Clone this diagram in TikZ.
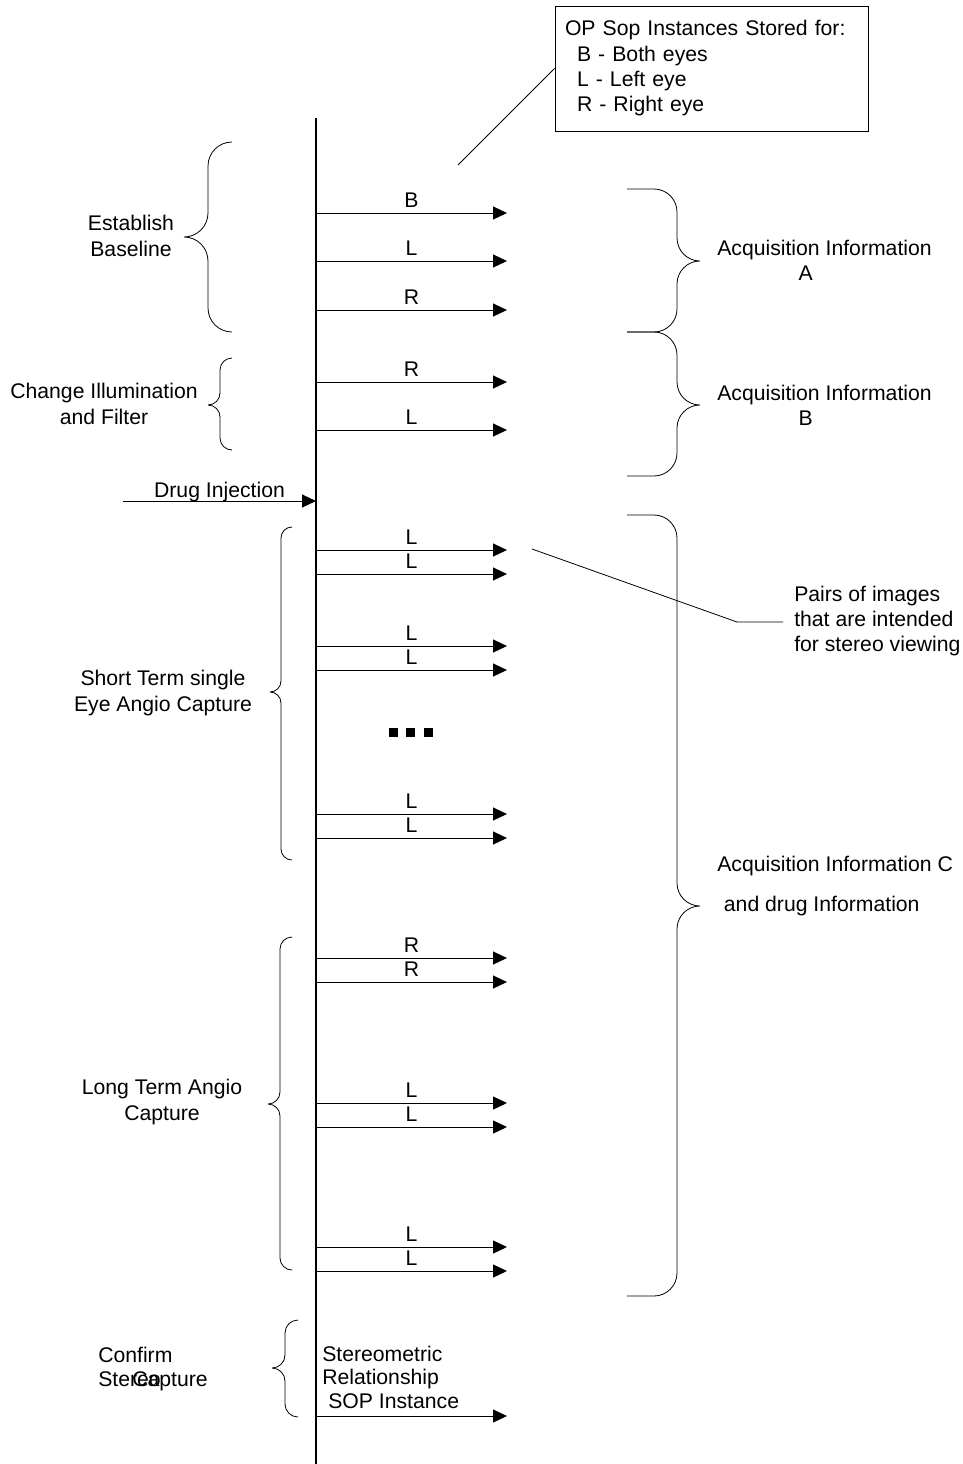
\documentclass[tikz,border=0pt]{standalone}
\usepackage{fontspec}
\setmainfont{Liberation Sans}
\usetikzlibrary{arrows.meta,positioning}
\tikzset{
	arr/.style={-{Triangle[length=10.5pt,width=9.75pt]}, line width=0.75pt},
	lbl/.style={midway, anchor=base, yshift=4.5pt, inner sep=0pt},
	txt/.style={inner sep=0pt, align=center},
	brc/.style={rounded corners=#1, line width=0.6pt},
	dot/.style={rectangle, fill=black, minimum size=6.75pt, inner sep=0pt},
	legend/.style={draw, line width=0.75pt, text width=219.75pt, align=left, minimum height=93.75pt, inner xsep=7.5pt, inner ysep=0pt}
}

\begin{document}
\begin{tikzpicture}[x=0.75pt, y=-0.75pt, font=\fontsize{15.9pt}{19pt}\selectfont]
		\useasboundingbox (0,0) rectangle (963,1464);
		% time line
		\coordinate (top) at (316,118);
		\coordinate (bot) at (316,1464);
		\coordinate (tip) at (507,0);
		\draw[line width=1.5pt] (top) -- (bot);

		% legend
		\node[legend] (key) at (711.5,68.5) {OP Sop Instances Stored for:\\\hspace*{9pt}B - Both eyes\\\hspace*{9pt}L - Left eye\\\hspace*{9pt}R - Right eye};
		\coordinate (kk) at (458,165);
		\draw[line width=0.6pt] (key.west) -- (kk);

		% baseline
		\coordinate (s1) at (316,213);
		\coordinate (s2) at (316,261);
		\coordinate (s3) at (316,310);
		\draw[arr] (s1) -- node[lbl] (l1) {B} (s1 -| tip);
		\draw[arr] (s2) -- node[lbl] (l2) {L} (s2 -| tip);
		\draw[arr] (s3) -- node[lbl] (l3) {R} (s3 -| tip);
		% illumination
		\coordinate (s4) at (316,382);
		\coordinate (s5) at (316,430);
		\draw[arr] (s4) -- node[lbl] (l4) {R} (s4 -| tip);
		\draw[arr] (s5) -- node[lbl] (l5) {L} (s5 -| tip);
		% drug
		\coordinate (inj) at (123,501);
		\draw[arr] (inj) -- node[lbl, yshift=-1.5pt] (ldrug) {Drug Injection} (inj -| top);
		% short term
		\coordinate (s6) at (316,550);
		\coordinate (s7) at (316,574);
		\coordinate (s8) at (316,646);
		\coordinate (s9) at (316,670);
		\coordinate (s10) at (316,814);
		\coordinate (s11) at (316,838);
		\draw[arr] (s6) -- node[lbl] (l6) {L} (s6 -| tip);
		\draw[arr] (s7) -- node[lbl] (l7) {L} (s7 -| tip);
		\draw[arr] (s8) -- node[lbl] (l8) {L} (s8 -| tip);
		\draw[arr] (s9) -- node[lbl] (l9) {L} (s9 -| tip);
		\draw[arr] (s10) -- node[lbl] (l10) {L} (s10 -| tip);
		\draw[arr] (s11) -- node[lbl] (l11) {L} (s11 -| tip);
		\node[dot] (d1) at (393,732) {};
		\node[dot] (d2) at (410,732) {};
		\node[dot] (d3) at (428,732) {};
		% long term
		\coordinate (s12) at (316,958);
		\coordinate (s13) at (316,982);
		\coordinate (s14) at (316,1103);
		\coordinate (s15) at (316,1127);
		\coordinate (s16) at (316,1247);
		\coordinate (s17) at (316,1271);
		\draw[arr] (s12) -- node[lbl] (l12) {R} (s12 -| tip);
		\draw[arr] (s13) -- node[lbl] (l13) {R} (s13 -| tip);
		\draw[arr] (s14) -- node[lbl] (l14) {L} (s14 -| tip);
		\draw[arr] (s15) -- node[lbl] (l15) {L} (s15 -| tip);
		\draw[arr] (s16) -- node[lbl] (l16) {L} (s16 -| tip);
		\draw[arr] (s17) -- node[lbl] (l17) {L} (s17 -| tip);
		% stereo
		\coordinate (s18) at (316,1416);
		\draw[arr] (s18) -- (s18 -| tip);
		\node[txt, align=left, anchor=west, font=\fontsize{15.9pt}{17.6pt}\selectfont] (sop) at (322,1377) {Stereometric\\Relationship\\\hspace*{4.5pt}SOP Instance};

		% left braces
		\draw[brc=18pt] (232,142) -| (208,237) -- (184,237) (184,237) -- (208,237) |- (232,332);
		\draw[brc=9pt] (232,358) -| (220,405) -- (208,405) (208,405) -- (220,405) |- (232,450);
		\draw[brc=8.25pt] (292,527) -| (281,692) -- (270,692) (270,692) -- (281,692) |- (292,860);
		\draw[brc=9pt] (292,937) -| (280,1104) -- (268,1104) (268,1104) -- (280,1104) |- (292,1270);
		\draw[brc=9.75pt] (298,1320) -| (285,1368) -- (272,1368) (272,1368) -- (285,1368) |- (298,1417);
		\node[txt] (base) at (131,236) {Establish\\Baseline};
		\node[txt] (illum) at (104,404) {Change Illumination\\and Filter};
		\node[txt] (short) at (163,693) {Short Term single\\Eye Angio Capture};
		\node[txt] (long) at (162,1102) {Long Term Angio\\Capture};
		\node[txt, anchor=base west] (conf) at (98,1362) {Confirm};
		\node[txt, anchor=base west] (stereo) at (98,1386) {Stereo};
		\node[txt, anchor=base west] (capt) at (132,1386) {Capture};

		% right braces
		\draw[brc=17.25pt] (627,189) -| (677,261) -- (700,261) (700,261) -- (677,261) |- (627,332);
		\draw[brc=17.25pt] (627,332) -| (677,405) -- (700,405) (700,405) -- (677,405) |- (627,476);
		\draw[brc=17.25pt] (627,515) -| (677,906) -- (700,906) (700,906) -- (677,906) |- (627,1296);
		\node[txt, align=left, anchor=west] (acqa) at (717,260) {Acquisition Information\\\hspace*{61pt}A};
		\node[txt, align=left, anchor=west] (acqb) at (717,405) {Acquisition Information\\\hspace*{61pt}B};
		\node[txt, align=left, anchor=west] (acqc) at (717,886) {Acquisition Information C\\[11pt]\hspace*{5pt}and drug Information};

		% stereo pairs
		\node[txt, align=left, anchor=west] (pairs) at (794,621) {Pairs of images\\that are intended\\for stereo viewing};
		\coordinate (pp) at (532,549);
		\coordinate (pk) at (737,622);
		\draw[line width=0.6pt, shorten >=8.25pt] (pp) -- (pk) -- (pk -| pairs.west);
	\end{tikzpicture}
\end{document}
